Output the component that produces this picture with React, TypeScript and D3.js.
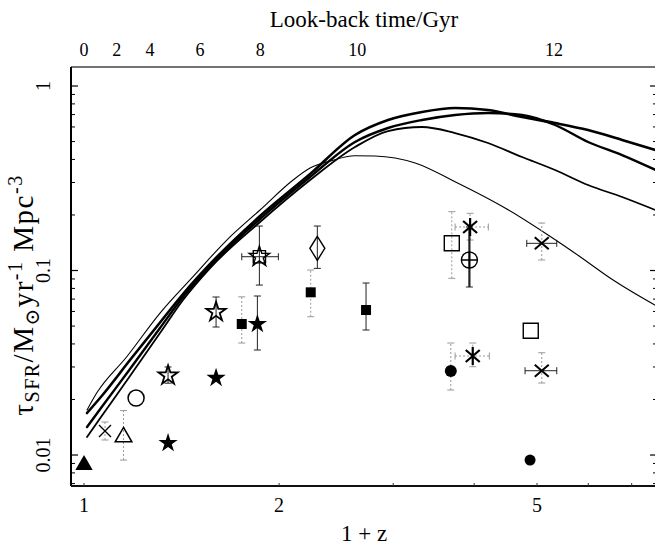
import React from 'react';
import * as d3 from 'd3';

const W = 655;
const H = 548;
const frame = { left: 71, top: 67, right: 657, bottom: 486 };

// model curves: 1+z grid shared by the three upper models
const modelZ = [1.0107, 1.0649, 1.1775, 1.31, 1.4216, 1.5651, 1.869, 2.233, 2.619, 2.9455, 3.3234, 3.737, 4.2016, 4.7417, 5.3316, 5.995, 6.7657, 7.66];
const modelA = [0.01689, 0.02089, 0.03273, 0.05226, 0.07458, 0.1085, 0.1974, 0.3334, 0.5425, 0.6542, 0.7231, 0.76, 0.7412, 0.6792, 0.6301, 0.5774, 0.5096, 0.447];
const modelB = [0.01418, 0.0182, 0.02924, 0.0488, 0.07184, 0.1058, 0.1902, 0.3212, 0.4971, 0.592, 0.6542, 0.6964, 0.714, 0.6964, 0.6146, 0.4971, 0.4226, 0.348];
const modelC = [0.01252, 0.01627, 0.02681, 0.04584, 0.06921, 0.1031, 0.1832, 0.3094, 0.467, 0.5703, 0.5995, 0.5562, 0.4909, 0.4122, 0.3505, 0.2907, 0.2503, 0.211];
// thin model, peaks earliest
const modelDZ = [1.0107, 1.046, 1.164, 1.31, 1.473, 1.661, 1.869, 2.102, 2.233, 2.397, 2.619, 2.813, 3.243, 3.737, 4.464, 5.2, 5.827, 6.553, 7.66];
const modelD = [0.01754, 0.02168, 0.0341, 0.0588, 0.0926, 0.1463, 0.2128, 0.3094, 0.3594, 0.392, 0.419, 0.4175, 0.3825, 0.3029, 0.2182, 0.1557, 0.1188, 0.0888, 0.064];

// observed points
const obsZ = [1.0, 1.0774, 1.1507, 1.2032, 1.348, 1.348, 1.5987, 1.5987, 1.7515, 1.8515, 1.8647, 2.291, 2.2379, 2.7239, 3.6942, 3.9425, 3.9327, 5.0855, 4.8907, 3.9797, 3.6811, 5.0855, 4.8786];
const obsSfr = [0.00883, 0.01349, 0.01252, 0.02037, 0.01161, 0.02698, 0.02615, 0.05958, 0.05129, 0.05129, 0.1188, 0.1319, 0.07617, 0.06107, 0.1404, 0.1721, 0.114, 0.1404, 0.04718, 0.0344, 0.02852, 0.02863, 0.00939];
const obsKind = ['triFill', 'x', 'triOpen', 'circOpen', 'starFill', 'starOpen', 'starFill', 'starOpen', 'sqFill', 'starFill', 'starSq', 'diamond', 'sqFill', 'sqFill', 'sqOpen', 'ast6', 'oplus', 'ast', 'sqOpen', 'ast6', 'circFill', 'ast', 'circFillSm'];

// error bars: point index, axis, low, high, style (0 faint, 1 solid, 2 heavy)
const errPoint = [1, 2, 5, 7, 8, 9, 10, 10, 11, 12, 13, 14, 15, 15, 16, 17, 17, 19, 19, 20, 21, 21];
const errAxis = ['y', 'y', 'y', 'y', 'y', 'y', 'y', 'x', 'y', 'y', 'y', 'y', 'y', 'x', 'y', 'y', 'x', 'y', 'x', 'y', 'y', 'x'];
const errLo = [0.01206, 0.00939, 0.0245, 0.04941, 0.04046, 0.03708, 0.0834, 1.7515, 0.1027, 0.05617, 0.04759, 0.09073, 0.1463, 3.7378, 0.0814, 0.114, 4.8216, 0.0301, 3.7378, 0.02251, 0.02456, 4.7925];
const errHi = [0.0151, 0.01741, 0.03, 0.07184, 0.072, 0.07275, 0.1742, 1.9948, 0.1742, 0.1006, 0.08555, 0.2084, 0.2042, 4.2061, 0.1721, 0.1809, 5.364, 0.04046, 4.2213, 0.04046, 0.03584, 5.364];
const errStyle = [0, 0, 1, 1, 0, 1, 1, 1, 1, 0, 1, 0, 0, 0, 2, 0, 1, 0, 0, 0, 0, 1];

// axis labels
const xTicks = [1, 2, 5];
const yTicks = [0.01, 0.1, 1];
const yTickLabels = ['0.01', '0.1', '1'];
const lookbackLabels = ['0', '2', '4', '6', '8', '10', '12'];
const lookbackZ = [1.0, 1.123, 1.264, 1.51, 1.87, 2.64, 5.31];

const x = d3.scaleLog().domain([0.9548, 7.659]).range([frame.left, frame.right]);
const y = d3.scaleLog().domain([0.006793, 1.2677]).range([frame.bottom, frame.top]);

const line = d3.line<[number, number]>()
  .x(d => x(d[0]))
  .y(d => y(d[1]))
  .curve(d3.curveMonotoneX);

const sym = (type: d3.SymbolType, size: number) => d3.symbol().type(type).size(size)() as string;

const minorY: number[] = [];
[-3, -2, -1, 0].forEach(e => {
  for (let k = 2; k <= 9; k++) {
    const v = k * Math.pow(10, e);
    if (v > y.domain()[0] && v < y.domain()[1]) minorY.push(v);
  }
});
const minorX = [3, 4, 6, 7];

const serif = '"Liberation Serif", "DejaVu Serif", serif';

const Marker = ({ kind }: { kind: string }) => {
  const stroke = '#000';
  switch (kind) {
    case 'triFill':
      return <path d={sym(d3.symbolTriangle, 130)} fill={stroke} />;
    case 'triOpen':
      return <path d={sym(d3.symbolTriangle, 120)} fill="none" stroke={stroke} strokeWidth={1.5} />;
    case 'circOpen':
      return <circle r={8} fill="none" stroke={stroke} strokeWidth={1.5} />;
    case 'circFill':
      return <circle r={6} fill={stroke} />;
    case 'circFillSm':
      return <circle r={5.5} fill={stroke} />;
    case 'starFill':
      return <path d={sym(d3.symbolStar, 115)} fill={stroke} />;
    case 'starOpen':
      return <path d={sym(d3.symbolStar, 115)} fill="none" stroke={stroke} strokeWidth={1.8} />;
    case 'sqFill':
      return <path d={sym(d3.symbolSquare, 100)} fill={stroke} />;
    case 'sqOpen':
      return <path d={sym(d3.symbolSquare, 225)} fill="none" stroke={stroke} strokeWidth={1.4} />;
    case 'starSq':
      return (
        <g fill="none" stroke={stroke} strokeWidth={1.4}>
          <path d={sym(d3.symbolSquare, 150)} />
          <path d={sym(d3.symbolStar, 130)} />
        </g>
      );
    case 'diamond':
      return <path d="M0,-12L7.5,0L0,12L-7.5,0Z" fill="none" stroke={stroke} strokeWidth={1.4} />;
    case 'x':
      return <path d="M-6,-6L6,6M-6,6L6,-6" stroke={stroke} strokeWidth={1.4} />;
    case 'ast':
      return <path d="M-7,-6L7,6M-7,6L7,-6" stroke={stroke} strokeWidth={2} />;
    case 'ast6':
      return <path d="M-7,-6L7,6M-7,6L7,-6M0,-9L0,9" stroke={stroke} strokeWidth={2.2} />;
    case 'oplus':
      return (
        <g fill="none" stroke={stroke} strokeWidth={1.4}>
          <circle r={8} />
          <path d="M-8,0L8,0M0,-8L0,8" />
        </g>
      );
    default:
      return null;
  }
};

const App = () => {
  const curves = [
    { z: modelZ, v: modelA, w: 2.6 },
    { z: modelZ, v: modelB, w: 2.4 },
    { z: modelZ, v: modelC, w: 1.8 },
    { z: modelDZ, v: modelD, w: 1.1 },
  ];

  return (
    <svg width={W} height={H} viewBox={`0 0 ${W} ${H}`} style={{ position: 'absolute', left: 0, top: 0, background: '#fff' }}>
      <defs>
        <clipPath id="plot">
          <rect x={frame.left} y={frame.top} width={frame.right - frame.left} height={frame.bottom - frame.top} />
        </clipPath>
      </defs>
      <rect width={W} height={H} fill="#fff" />

      {/* frame */}
      <line x1={frame.left} x2={frame.right} y1={frame.top} y2={frame.top} stroke="#444" strokeWidth={1.4} />
      <line x1={frame.left} x2={frame.left} y1={frame.top} y2={frame.bottom} stroke="#000" strokeWidth={2} />
      <line x1={frame.left} x2={frame.right} y1={frame.bottom} y2={frame.bottom} stroke="#111" strokeWidth={2} />

      {/* y ticks, both sides */}
      {yTicks.map(t => (
        <g key={'yt' + t}>
          <line x1={frame.left} x2={frame.left + 7} y1={y(t)} y2={y(t)} stroke="#000" strokeWidth={1.2} />
          <line x1={frame.right - 7} x2={frame.right} y1={y(t)} y2={y(t)} stroke="#000" strokeWidth={1.2} />
        </g>
      ))}
      {minorY.map(t => (
        <g key={'ym' + t}>
          <line x1={frame.left} x2={frame.left + 4} y1={y(t)} y2={y(t)} stroke="#000" strokeWidth={1} />
          <line x1={frame.right - 4} x2={frame.right} y1={y(t)} y2={y(t)} stroke="#000" strokeWidth={1} />
        </g>
      ))}
      {xTicks.concat(minorX).map(t => (
        <line key={'xt' + t} x1={x(t)} x2={x(t)} y1={frame.bottom} y2={frame.bottom - 3} stroke="#333" strokeWidth={1} />
      ))}

      {/* tick labels */}
      <g fontFamily={serif} fill="#000">
        {xTicks.map(t => (
          <text key={'xl' + t} x={x(t)} y={512} fontSize={20} textAnchor="middle">{t}</text>
        ))}
        {yTicks.map((t, i) => (
          <text key={'yl' + t} transform={`translate(50,${y(t)}) rotate(-90)`} fontSize={20} textAnchor="middle">{yTickLabels[i]}</text>
        ))}
        {lookbackLabels.map((l, i) => (
          <text key={'lb' + l} x={x(lookbackZ[i])} y={56} fontSize={18} textAnchor="middle">{l}</text>
        ))}
        <text x={364} y={27} fontSize={23} textAnchor="middle">Look-back time/Gyr</text>
        <text x={364} y={541} fontSize={23} textAnchor="middle">1 + z</text>
        <text transform="translate(33,295) rotate(-90)" fontSize={29} letterSpacing={1.5} textAnchor="middle">
          τ<tspan fontSize={20} dy={6}>SFR</tspan>
          <tspan dy={-6}>/M</tspan>
          <tspan fontSize={20} dy={6}>⊙</tspan>
          <tspan dy={-6}>yr</tspan>
          <tspan fontSize={20} dy={-11}>-1</tspan>
          <tspan dy={11}> Mpc</tspan>
          <tspan fontSize={20} dy={-11}>-3</tspan>
        </text>
      </g>

      {/* model curves */}
      <g clipPath="url(#plot)" fill="none" stroke="#000" strokeLinejoin="round" strokeLinecap="round">
        {curves.map((c, i) => (
          <path key={'c' + i} d={line(c.z.map((z, j) => [z, c.v[j]] as [number, number])) as string} strokeWidth={c.w} />
        ))}
      </g>

      {/* error bars */}
      <g>
        {errPoint.map((p, i) => {
          const style = errStyle[i];
          const col = style === 0 ? '#999' : '#222';
          const sw = style === 2 ? 2.2 : 1;
          const dash = style === 0 ? '2,2' : undefined;
          const px = x(obsZ[p]);
          const py = y(obsSfr[p]);
          if (errAxis[i] === 'y') {
            const y0 = y(errLo[i]);
            const y1 = y(errHi[i]);
            return (
              <g key={'e' + i} stroke={col} strokeWidth={sw}>
                <line x1={px} x2={px} y1={y0} y2={y1} strokeDasharray={dash} />
                <line x1={px - 3.5} x2={px + 3.5} y1={y0} y2={y0} strokeWidth={1} />
                <line x1={px - 3.5} x2={px + 3.5} y1={y1} y2={y1} strokeWidth={1} />
              </g>
            );
          }
          const x0 = x(errLo[i]);
          const x1 = x(errHi[i]);
          return (
            <g key={'e' + i} stroke={col} strokeWidth={sw}>
              <line x1={x0} x2={x1} y1={py} y2={py} strokeDasharray={dash} />
              <line x1={x0} x2={x0} y1={py - 3.5} y2={py + 3.5} strokeWidth={1} />
              <line x1={x1} x2={x1} y1={py - 3.5} y2={py + 3.5} strokeWidth={1} />
            </g>
          );
        })}
      </g>

      {/* markers */}
      <g>
        {obsZ.map((z, i) => (
          <g key={'m' + i} transform={`translate(${x(z)},${y(obsSfr[i])})`}>
            <Marker kind={obsKind[i]} />
          </g>
        ))}
      </g>
    </svg>
  );
};

export default App;
